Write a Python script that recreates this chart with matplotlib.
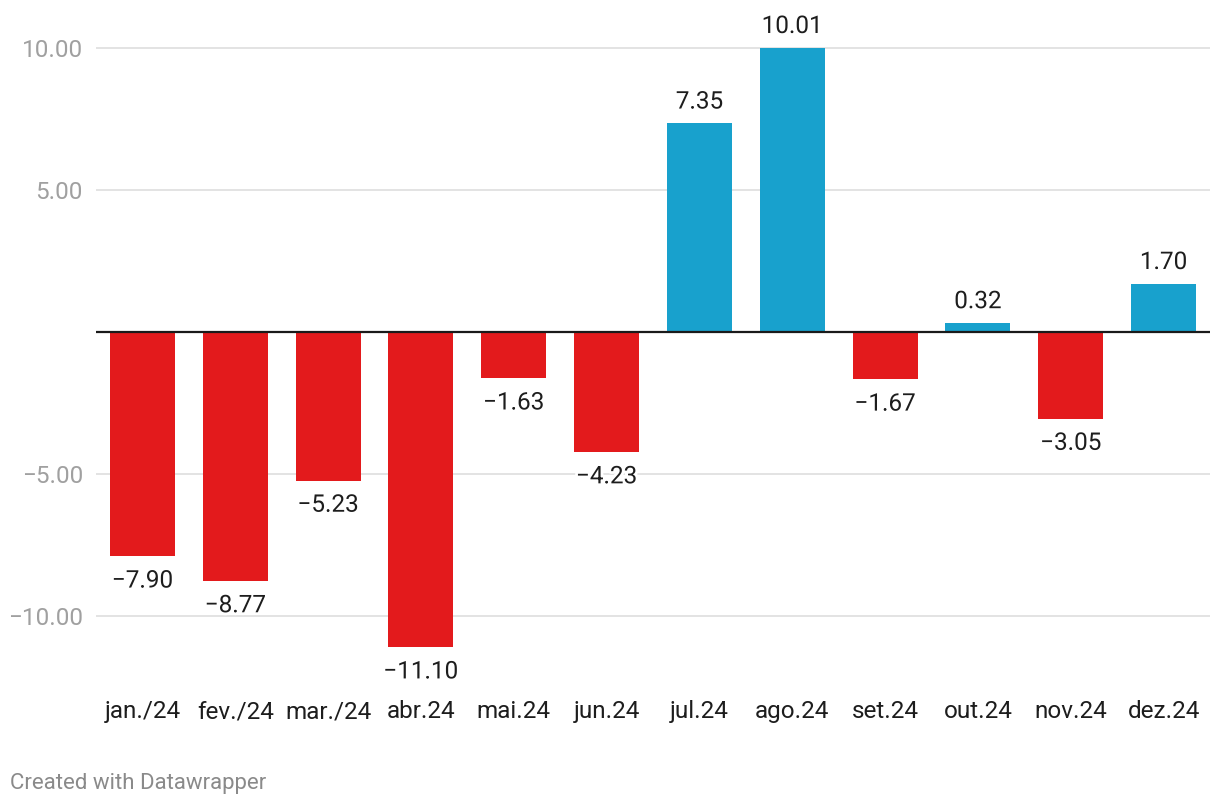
import matplotlib
matplotlib.use("Agg")
import matplotlib.pyplot as plt
import matplotlib.patheffects as pe

plt.rcParams['font.family'] = ['Roboto', 'DejaVu Sans']

# data
months = ['jan./24', 'fev./24', 'mar./24', 'abr.24', 'mai.24', 'jun.24',
          'jul.24', 'ago.24', 'set.24', 'out.24', 'nov.24', 'dez.24']
values = [-7.90, -8.77, -5.23, -11.10, -1.63, -4.23,
          7.35, 10.01, -1.67, 0.32, -3.05, 1.70]
yticks = [-10, -5, 5, 10]

RED = '#e31a1c'
BLUE = '#18a1cd'


def fmt(v):
    s = '%.2f' % abs(v)
    return ('\u2212' + s) if v < 0 else s


W, H = 1220, 806
fig = plt.figure(figsize=(W / 100, H / 100), dpi=100)
top_px, bot_px, left_px, right_px = 40, 680, 96, 1210
ax = fig.add_axes([left_px / W, 1 - bot_px / H,
                   (right_px - left_px) / W, (bot_px - top_px) / H])

# 28.4 px per unit, 10 at y=48
ppu = 28.4
ax.set_ylim(-10 - (bot_px - 616) / ppu, 10 + (48 - top_px) / ppu)
ax.set_xlim(-0.5, len(months) - 0.5)

colors = [BLUE if v >= 0 else RED for v in values]
x = list(range(len(months)))
ax.bar(x, values, width=0.70, color=colors, zorder=2)

for yt in yticks:
    ax.axhline(yt, color='#e3e3e3', lw=1.4, zorder=1)
ax.axhline(0, color='#1a1a1a', lw=1.6, zorder=3)

fs = 17.5
for xi, v in zip(x, values):
    if v >= 0:
        ax.annotate(fmt(v), (xi, v), xytext=(0, 7), textcoords='offset points',
                    ha='center', va='bottom', fontsize=fs, color='#1d1d1d',
                    zorder=4,
                    path_effects=[pe.withStroke(linewidth=4, foreground='white')])
    else:
        ax.annotate(fmt(v), (xi, v), xytext=(0, -9.5), textcoords='offset points',
                    ha='center', va='top', fontsize=fs, color='#1d1d1d',
                    zorder=4,
                    path_effects=[pe.withStroke(linewidth=4, foreground='white')])

ax.set_yticks(yticks)
ax.set_yticklabels([fmt(t) for t in yticks])
ax.set_xticks(x)
ax.set_xticklabels(months)
ax.tick_params(axis='y', length=0, pad=9.5, labelsize=fs, labelcolor='#a0a0a0')
ax.tick_params(axis='x', length=0, pad=14.5, labelsize=fs, labelcolor='#1d1d1d')
for s in ax.spines.values():
    s.set_visible(False)

fig.text(10 / W, 1 - 784 / H, 'Created with Datawrapper', ha='left', va='center',
         fontsize=16, color='#8a8a8a')

fig.savefig('out.png', dpi=100)
